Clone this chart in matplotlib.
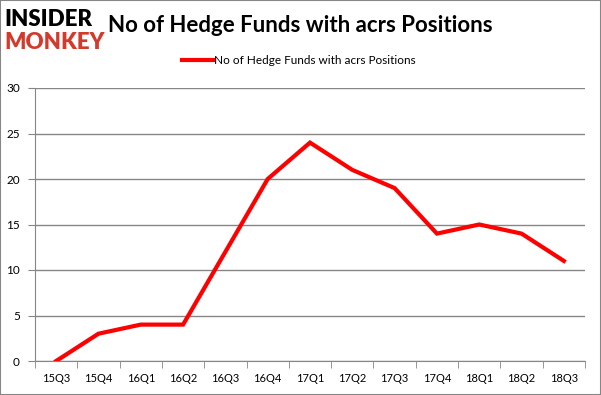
import numpy as np
import matplotlib.pyplot as plt
from matplotlib.patches import Rectangle

# data
quarters = ["15Q3", "15Q4", "16Q1", "16Q2", "16Q3", "16Q4", "17Q1",
            "17Q2", "17Q3", "17Q4", "18Q1", "18Q2", "18Q3"]
funds = [0, 3, 4, 4, 12, 20, 24, 21, 19, 14, 15, 14, 11]
y_ticks = [0, 5, 10, 15, 20, 25, 30]

plt.rcParams['font.family'] = ['Lato', 'DejaVu Sans']

fig = plt.figure(figsize=(6.01, 3.95), dpi=100)
ax = fig.add_axes([35 / 601, 34 / 395, 550 / 601, 273 / 395])

x = np.arange(len(quarters))
ax.plot(x, funds, color='#ff0000', linewidth=3, label="No of Hedge Funds with acrs Positions",
        solid_joinstyle='miter', zorder=3)

ax.set_xlim(-0.5, len(quarters) - 0.5)
ax.set_ylim(0, 30)
ax.set_yticks(y_ticks)
ax.set_xticks(x)
ax.set_xticklabels(quarters, fontsize=8)
ax.set_xticks(np.arange(-0.5, len(quarters)), minor=True)
ax.tick_params(axis='x', which='major', length=0, pad=9)
ax.tick_params(axis='x', which='minor', length=5, color='#868686')
ax.tick_params(axis='y', length=5, color='#868686', labelsize=8.5, pad=6)
ax.grid(axis='y', color='#868686', linewidth=1)
ax.set_axisbelow(True)
for s in ['top', 'right']:
    ax.spines[s].set_visible(False)
for s in ['left', 'bottom']:
    ax.spines[s].set_color('#868686')

ax.legend(loc='upper center', bbox_to_anchor=(0.48, 1.16), frameon=False, fontsize=8.5,
          handlelength=2.6, handletextpad=0.1)

fig.text(0.5, 0.935, "No of Hedge Funds with acrs Positions", ha='center', va='center',
         fontsize=16, fontweight='bold')
fig.text(0.008, 0.95, "INSIDER", fontsize=16, fontweight='heavy', color='black', va='center')
fig.text(0.008, 0.893, "MONKEY", fontsize=16, fontweight='heavy', color='#d33a2c', va='center')

fig.patches.append(Rectangle((0, 0), 1, 1, transform=fig.transFigure, fill=False,
                             edgecolor='#868686', linewidth=1.5))

fig.savefig("out.png", dpi=100)
